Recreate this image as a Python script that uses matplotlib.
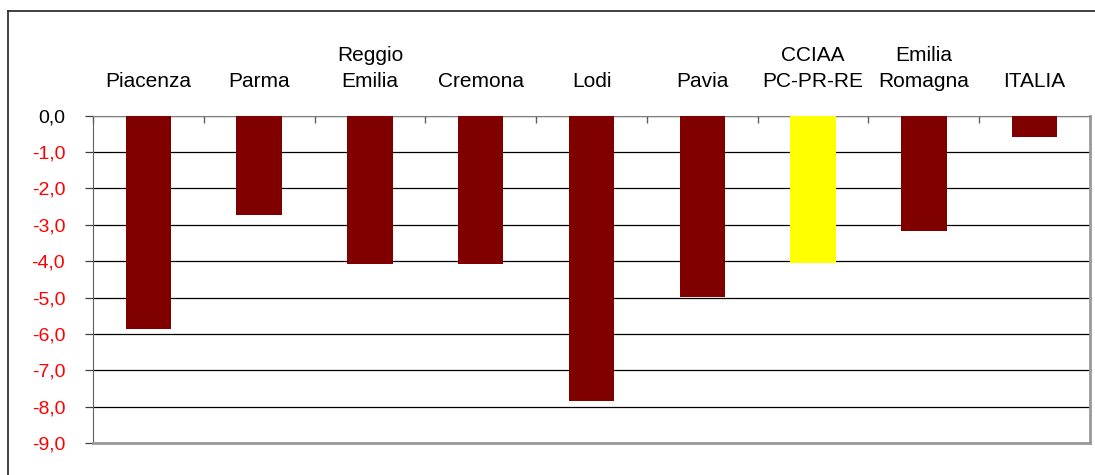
import matplotlib
matplotlib.use("Agg")
import matplotlib.pyplot as plt
from matplotlib.lines import Line2D
import numpy as np

plt.rcParams["font.family"] = ["Liberation Sans", "DejaVu Sans"]

categories = ["Piacenza", "Parma", "Reggio\nEmilia", "Cremona", "Lodi", "Pavia",
              "CCIAA\nPC-PR-RE", "Emilia\nRomagna", "ITALIA"]
values = [-5.86, -2.73, -4.09, -4.09, -7.84, -4.98, -4.04, -3.16, -0.58]
colors = ["#800000"] * 6 + ["#FFFF00"] + ["#800000"] * 2
yticks = [0, -1, -2, -3, -4, -5, -6, -7, -8, -9]

fig = plt.figure(figsize=(10.95, 4.75), dpi=100)
ax = fig.add_axes([93 / 1095, 1 - 443 / 475, (1090 - 93) / 1095, (443 - 115.7) / 475])

x = np.arange(len(categories))
ax.bar(x, values, width=0.41, color=colors, zorder=3)

ax.set_xlim(-0.5, len(categories) - 0.5)
ax.set_ylim(-9, 0)

# gridlines
ax.set_yticks(yticks)
ax.yaxis.grid(True, color="black", linewidth=0.9, zorder=1)
ax.set_axisbelow(True)
labels = [f"{v:.1f}".replace(".", ",") for v in yticks]
ax.set_yticklabels(labels, fontsize=14)
for i, t in enumerate(ax.get_yticklabels()):
    t.set_color("black" if yticks[i] == 0 else "#FF0000")
ax.tick_params(axis="y", length=6, width=0.9, color="#404040", pad=14)

# category labels on top
ax.xaxis.tick_top()
ax.set_xticks(x)
ax.set_xticklabels(categories, fontsize=15, linespacing=1.45)
ax.set_xticks(np.arange(len(categories) + 1) - 0.5, minor=True)
ax.tick_params(axis="x", which="major", length=0, pad=18)
ax.tick_params(axis="x", which="minor", length=5, direction="in", color="#606060",
               width=1, top=True, bottom=False)

ax.spines["top"].set_color("#808080")
ax.spines["left"].set_color("#606060")
ax.spines["right"].set_color("#999999")
ax.spines["bottom"].set_color("#999999")
ax.spines["right"].set_linewidth(2)
ax.spines["bottom"].set_linewidth(2)

# outer chart frame
fig.add_artist(Line2D([8 / 1095, 1.0], [1 - 11 / 475] * 2, color="#303030", lw=1.3,
                      transform=fig.transFigure))
fig.add_artist(Line2D([8 / 1095] * 2, [0.0, 1 - 11 / 475], color="#303030", lw=1.3,
                      transform=fig.transFigure))

fig.savefig("out.png", dpi=100)
